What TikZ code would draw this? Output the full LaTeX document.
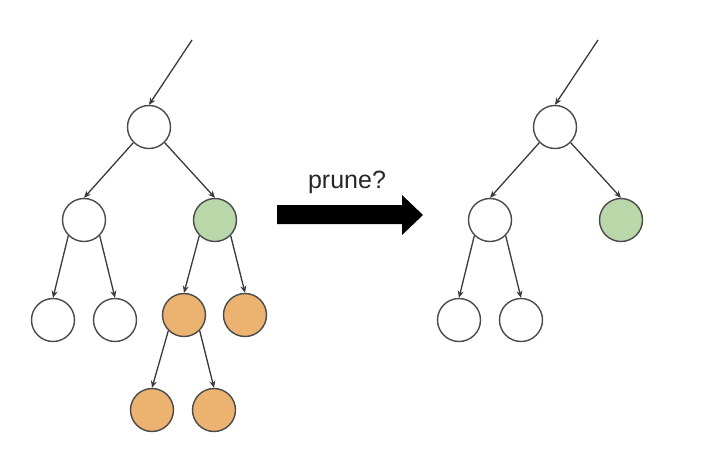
\documentclass[tikz,border=0pt]{standalone}
\usepackage{fontspec}
\setmainfont{Liberation Sans}
\usetikzlibrary{arrows.meta}
\definecolor{nodeline}{HTML}{4A4A4A}
\definecolor{edgeline}{HTML}{3A3A3A}
\definecolor{leafgreen}{HTML}{BAD7A9}
\definecolor{prunedorange}{HTML}{EBB270}
\tikzset{
  treenode/.style={circle,draw=nodeline,line width=1.4pt,minimum size=43pt,inner sep=0pt,fill=white},
  greennode/.style={treenode,fill=leafgreen},
  orangenode/.style={treenode,fill=prunedorange},
  edge/.style={draw=edgeline,line width=1.3pt,-{Stealth[length=7pt,width=6pt]}},
  bigarrow/.style={fill=black}
}
\begin{document}
\begin{tikzpicture}[x=1pt,y=-1pt]
\useasboundingbox (0,0) rectangle (710,464);
% left tree
\coordinate (ls) at (192,40);
\node[treenode] (lr) at (149,127) {};
\node[treenode] (la) at (84,220) {};
\node[greennode] (lb) at (215,220) {};
\node[treenode] (la1) at (53,320) {};
\node[treenode] (la2) at (115,320) {};
\node[orangenode] (lb1) at (184,315) {};
\node[orangenode] (lb2) at (245,315) {};
\node[orangenode] (lc1) at (152,410) {};
\node[orangenode] (lc2) at (214,410) {};
\draw[edge] (ls) -- (lr.north);
\draw[edge] (lr.south west) -- (la.north);
\draw[edge] (lr.south east) -- (lb.north);
\draw[edge] (la.south west) -- (la1.north);
\draw[edge] (la.south east) -- (la2.north);
\draw[edge] (lb.south west) -- (lb1.north);
\draw[edge] (lb.south east) -- (lb2.north);
\draw[edge] (lb1.south west) -- (lc1.north);
\draw[edge] (lb1.south east) -- (lc2.north);
% big arrow
\fill[bigarrow] (277,205) -- (402,205) -- (402,195) -- (423,215) -- (402,235) -- (402,224) -- (277,224) -- cycle;
\node[font=\fontsize{25}{28}\selectfont,text=black!85,inner sep=0pt] (prune) at (347,182) {prune?};
% right tree
\coordinate (rs) at (598,40);
\node[treenode] (rr) at (555,127) {};
\node[treenode] (ra) at (490,220) {};
\node[greennode] (rb) at (621,220) {};
\node[treenode] (ra1) at (459,320) {};
\node[treenode] (ra2) at (521,320) {};
\draw[edge] (rs) -- (rr.north);
\draw[edge] (rr.south west) -- (ra.north);
\draw[edge] (rr.south east) -- (rb.north);
\draw[edge] (ra.south west) -- (ra1.north);
\draw[edge] (ra.south east) -- (ra2.north);
\end{tikzpicture}
\end{document}
